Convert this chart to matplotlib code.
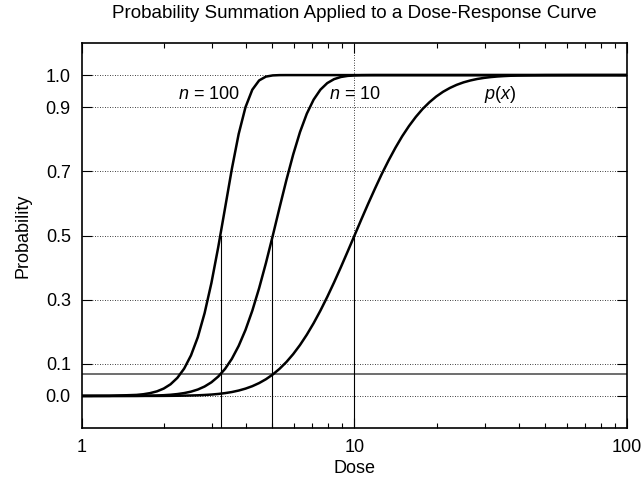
import matplotlib
matplotlib.use("Agg")
import matplotlib.pyplot as plt

plt.rcParams["font.family"] = ["Liberation Sans", "DejaVu Sans"]
plt.rcParams["mathtext.fontset"] = "custom"
plt.rcParams["mathtext.it"] = "Liberation Sans:italic"
plt.rcParams["mathtext.rm"] = "Liberation Sans"

# dose values (log-spaced, read along the x axis)
dose = [1.0, 1.259, 1.585, 1.679, 1.778, 1.884, 1.995, 2.113, 2.239, 2.371,
        2.512, 2.661, 2.818, 2.985, 3.162, 3.350, 3.548, 3.758, 3.981, 4.217,
        4.467, 4.732, 5.012, 5.309, 5.623, 5.957, 6.310, 6.683, 7.079, 7.499,
        7.943, 8.414, 8.913, 9.441, 10.0, 10.59, 11.22, 11.89, 12.59, 13.34,
        14.13, 14.96, 15.85, 16.79, 17.78, 18.84, 19.95, 21.13, 22.39, 23.71,
        25.12, 26.61, 28.18, 29.85, 31.62, 33.50, 35.48, 37.58, 39.81, 44.67,
        50.12, 63.10, 100.0]

# single-trial curve p(x)
p_single = [0.0, 0.0, 0.0, 0.0001, 0.0001, 0.0001, 0.0002, 0.0004, 0.0006, 0.0009,
            0.0014, 0.0020, 0.0030, 0.0043, 0.0062, 0.0088, 0.0122, 0.0168, 0.0228, 0.0304,
            0.0401, 0.0521, 0.0668, 0.0846, 0.1056, 0.1303, 0.1587, 0.1908, 0.2266, 0.2660,
            0.3085, 0.3538, 0.4013, 0.4503, 0.5000, 0.5497, 0.5987, 0.6462, 0.6915, 0.7340,
            0.7734, 0.8092, 0.8413, 0.8697, 0.8944, 0.9154, 0.9332, 0.9479, 0.9599, 0.9696,
            0.9773, 0.9832, 0.9878, 0.9912, 0.9938, 0.9957, 0.9970, 0.9980, 0.9987, 0.9994,
            0.9998, 1.0, 1.0]

# n = 10
p_n10 = [0.0, 0.0, 0.0003, 0.0005, 0.0009, 0.0014, 0.0023, 0.0037, 0.0058, 0.0089,
         0.0134, 0.0200, 0.0294, 0.0425, 0.0604, 0.0843, 0.1157, 0.1559, 0.2056, 0.2656,
         0.3358, 0.4143, 0.4991, 0.5869, 0.6724, 0.7524, 0.8224, 0.8796, 0.9234, 0.9546,
         0.9750, 0.9873, 0.9941, 0.9975, 0.9990, 0.9997, 0.9999, 1.0, 1.0, 1.0,
         1.0, 1.0, 1.0, 1.0, 1.0, 1.0, 1.0, 1.0, 1.0, 1.0,
         1.0, 1.0, 1.0, 1.0, 1.0, 1.0, 1.0, 1.0, 1.0, 1.0,
         1.0, 1.0, 1.0]

# n = 100
p_n100 = [0.0, 0.0003, 0.0032, 0.0053, 0.0088, 0.0143, 0.0230, 0.0363, 0.0564, 0.0852,
          0.1264, 0.1831, 0.2580, 0.3520, 0.4636, 0.5856, 0.7076, 0.8163, 0.8999, 0.9544,
          0.9833, 0.9953, 0.9990, 0.9999, 1.0, 1.0, 1.0, 1.0, 1.0, 1.0,
          1.0, 1.0, 1.0, 1.0, 1.0, 1.0, 1.0, 1.0, 1.0, 1.0,
          1.0, 1.0, 1.0, 1.0, 1.0, 1.0, 1.0, 1.0, 1.0, 1.0,
          1.0, 1.0, 1.0, 1.0, 1.0, 1.0, 1.0, 1.0, 1.0, 1.0,
          1.0, 1.0, 1.0]

# doses where each curve reaches 0.5, and the single-trial threshold
half_doses = [3.24, 5.0, 10.0]
threshold = 0.067

y_ticks = [0.0, 0.1, 0.3, 0.5, 0.7, 0.9, 1.0]
x_ticks = [1, 10, 100]


def draw():
    fig = plt.figure(figsize=(6.44, 4.87), dpi=100)
    ax = fig.add_axes([0.1273, 0.1211, 0.8463, 0.7906])
    ax.set_xscale("log")
    ax.set_xlim(1, 100)
    ax.set_ylim(-0.1, 1.1)

    for yv in y_ticks:
        ax.axhline(yv, color="black", lw=0.6, ls=(0, (1, 2)), zorder=1)
    ax.axvline(10, color="black", lw=0.6, ls=(0, (1, 2)), zorder=1)

    ax.axhline(threshold, color="#555555", lw=1.2, zorder=2)
    for d in half_doses:
        ax.plot([d, d], [-0.1, 0.5], color="black", lw=0.8, zorder=2)

    ax.plot(dose, p_single, color="black", lw=1.8, zorder=3)
    ax.plot(dose, p_n10, color="black", lw=1.8, zorder=3)
    ax.plot(dose, p_n100, color="black", lw=1.8, zorder=3)

    ax.text(2.93, 0.94, r"$n$ = 100", fontsize=13, ha="center", va="center")
    ax.text(10.0, 0.94, r"$n$ = 10", fontsize=13, ha="center", va="center")
    ax.text(34.2, 0.94, r"$p$($x$)", fontsize=13, ha="center", va="center")

    ax.set_yticks(y_ticks)
    ax.set_yticklabels(["%.1f" % v for v in y_ticks])
    ax.set_xticks(x_ticks)
    ax.set_xticklabels([str(v) for v in x_ticks])
    ax.tick_params(which="both", direction="in", top=True, right=True,
                   labelsize=13, width=0.8, pad=8)
    ax.tick_params(which="major", length=7)
    ax.tick_params(which="minor", length=3.5)
    for s in ax.spines.values():
        s.set_linewidth(1.2)

    ax.set_xlabel("Dose", fontsize=13, labelpad=3)
    ax.set_ylabel("Probability", fontsize=13, labelpad=10)
    ax.set_title("Probability Summation Applied to a Dose-Response Curve",
                 fontsize=13.5, pad=18)
    fig.savefig("out.png", dpi=100)


if __name__ == "__main__":
    draw()
